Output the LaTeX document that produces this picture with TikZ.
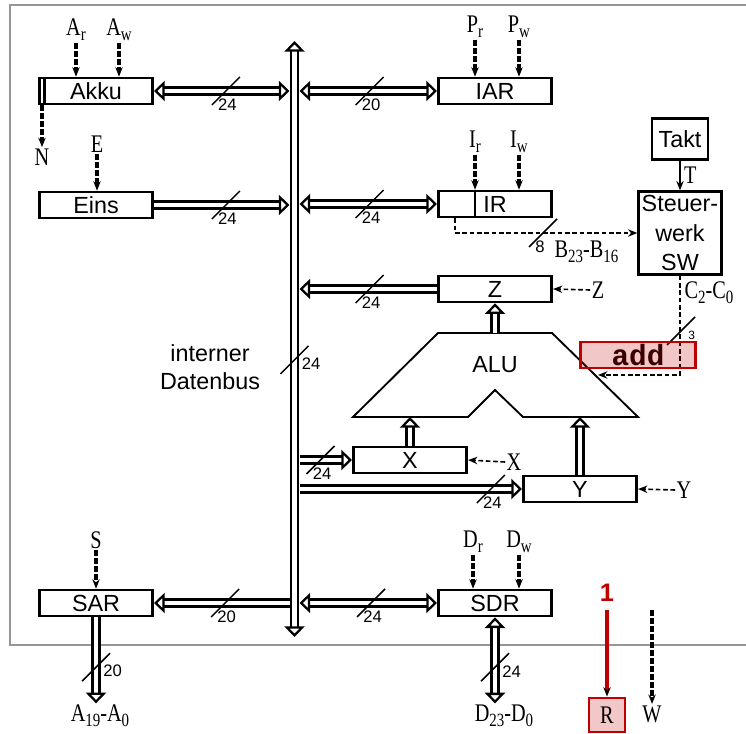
\documentclass[tikz,border=0pt]{standalone}
\usepackage{fontspec}
\setmainfont{Liberation Sans}
\newfontfamily\sigfont{Liberation Serif}[FakeStretch=0.8]
\newfontfamily\codefont{Liberation Mono}
\usetikzlibrary{arrows.meta}
\definecolor{addred}{RGB}{192,0,0}
\definecolor{addtext}{RGB}{60,0,0}
\definecolor{framegray}{RGB}{150,150,150}
\newcommand{\sub}[1]{\raisebox{-0.45ex}{\fontsize{14}{14}\selectfont #1}}

\tikzset{
  pics/wmark/.style={code={\draw[slash] (-14,-14) -- (14,14); \node[wlab, anchor=north west] at (-8,-8) {#1};}},
  pics/vmark/.style={code={\draw[slash] (-14,-14) -- (14,14); \node[wlab, anchor=west] at (7,-4) {#1};}},
}

\begin{document}
\begin{tikzpicture}[x=0.75pt,y=0.75pt,yscale=-1,xscale=1,
  reg/.style={draw, line width=2pt, minimum width=85pt, minimum height=19.5pt, inner sep=0pt, font=\fontsize{17.5}{21}\selectfont},
  sig/.style={inner sep=1pt, font=\sigfont\fontsize{19}{20}\selectfont},
  bus/.style={double, double distance=3.4pt, line width=1.7pt},
  ctrl/.style={line width=2.4pt, dash pattern=on 4.5pt off 1.5pt, -{Stealth[length=7pt,width=5.5pt]}},
  sline/.style={line width=1.2pt, dash pattern=on 3.5pt off 2pt, -{Stealth[length=7pt,width=5.5pt]}},
  slash/.style={line width=1.1pt},
  wlab/.style={inner sep=0pt, font=\fontsize{12.5}{12.5}\selectfont},
  redbox/.style={draw=addred, line width=2.2pt, fill=addred, fill opacity=0.22, text opacity=1},
  >={Triangle[open, length=8pt, width=15pt]}
]
\useasboundingbox (0,0) rectangle (746,734);

%Frame
\draw[framegray, line width=2.2pt] (746,5) -- (10,5) -- (10,645) -- (746,645);

%Bus
\coordinate (bustop) at (294.5,41);
\coordinate (busbot) at (294.5,637);
\coordinate (busL) at (289.5,0);
\coordinate (busR) at (299.5,0);
\draw[bus,<->] (bustop) -- (busbot) coordinate[pos=0.535] (wbus);
\pic at (wbus) {vmark=24};
% Text Node
\node[align=center, font=\fontsize{17.5}{21}\selectfont] (dbl) at (210,367) {interner\\Datenbus};

%Registers
\node[reg] (akku) at (96,91) {Akku};
\draw[line width=2pt] ([xshift=5pt]akku.north west) -- ([xshift=5pt]akku.south west);
\node[reg] (eins) at (96,205) {Eins};
\node[reg] (iar) at (495,91) {IAR};
\node[reg] (ir) at (495,204) {IR};
\draw[line width=2pt] ([xshift=28.5pt]ir.north west) -- ([xshift=28.5pt]ir.south west);
\node[reg] (z) at (495,289) {Z};
\node[reg] (x) at (410,460) {X};
\node[reg] (y) at (580,489) {Y};
\node[reg] (sar) at (96,603) {SAR};
\node[reg] (sdr) at (495,603) {SDR};
\node[reg, minimum width=42pt, minimum height=31pt] (takt) at (680,139) {Takt};
\node[reg, minimum width=62pt, minimum height=62pt, align=center, font=\fontsize{17.5}{22}\selectfont] (sw) at (680,233) {Steuer-\\werk\\SW};

%Bus connections
\draw[bus,<->] (akku.east) -- (akku.east -| busL) coordinate[pos=0.53] (wakku);
\pic at (wakku) {wmark=24};
\draw[bus,->] (eins.east) -- (eins.east -| busL) coordinate[pos=0.53] (weins);
\pic at (weins) {wmark=24};
\draw[bus,<->] (iar.west -| busR) -- (iar.west) coordinate[pos=0.51] (wiar);
\pic at (wiar) {wmark=20};
\draw[bus,<->] (ir.west -| busR) -- (ir.west) coordinate[pos=0.51] (wir);
\pic at (wir) {wmark=24};
\draw[bus,->] (z.west) -- (z.west -| busR) coordinate[pos=0.49] (wz);
\pic at (wz) {wmark=24};
\draw[bus,->] (x.west -| busR) -- (x.west) coordinate[pos=0.4] (wx);
\pic at (wx) {wmark=24};
\draw[bus,->] (y.west -| busR) -- (y.west) coordinate[pos=0.86] (wy);
\pic at (wy) {wmark=24};
\draw[bus,->] (sar.east -| busL) -- (sar.east) coordinate[pos=0.475] (wsar);
\pic at (wsar) {wmark=20};
\draw[bus,<->] (sdr.west -| busR) -- (sdr.west) coordinate[pos=0.52] (wsdr);
\pic at (wsdr) {wmark=24};

%ALU
\coordinate (alutop) at (495,333);
\coordinate (alubot) at (495,417);
\draw[line width=1.4pt] (438,333) -- (552,333) -- (638,417) -- (523,417) -- (495,390) -- (468,417) -- (353,417) -- cycle;
\node[font=\fontsize{17.5}{21}\selectfont] (alu) at (495,365) {ALU};
\draw[bus,->] (alutop) -- (z.south);
\draw[bus,->] (x.north) -- (x.north |- alubot);
\draw[bus,->] (y.north) -- (y.north |- alubot);

%Control signals
\node[sig] (ar) at (76,30) {A\sub{r}};
\node[sig] (aw) at (119,30) {A\sub{w}};
\draw[ctrl] (ar.south) -- (ar.south |- akku.north);
\draw[ctrl] (aw.south) -- (aw.south |- akku.north);
\node[sig] (nl) at (42,157) {N};
\draw[ctrl] (nl.north |- akku.south) -- (nl.north);
\node[sig] (el) at (97,144) {E};
\draw[ctrl] (el.south) -- (el.south |- eins.north);
\node[sig] (pr) at (475,27) {P\sub{r}};
\node[sig] (pw) at (519,27) {P\sub{w}};
\draw[ctrl] (pr.south) -- (pr.south |- iar.north);
\draw[ctrl] (pw.south) -- (pw.south |- iar.north);
\node[sig] (irl) at (475,142) {I\sub{r}};
\node[sig] (iwl) at (519,142) {I\sub{w}};
\draw[ctrl] (irl.south) -- (irl.south |- ir.north);
\draw[ctrl] (iwl.south) -- (iwl.south |- ir.north);
\node[sig] (sl) at (96,540) {S};
\draw[ctrl] (sl.south) -- (sl.south |- sar.north);
\node[sig] (drl) at (473,542) {D\sub{r}};
\node[sig] (dwl) at (519,542) {D\sub{w}};
\draw[ctrl] (drl.south) -- (drl.south |- sdr.north);
\draw[ctrl] (dwl.south) -- (dwl.south |- sdr.north);
\node[sig] (zl) at (598,290) {Z};
\draw[sline] (zl.west) -- (z.east);
\node[sig] (xl) at (514,462) {X};
\draw[sline] (xl.west) -- (x.east);
\node[sig] (yl) at (684,490) {Y};
\draw[sline] (yl.west) -- (y.east);

%Steuerwerk
\draw[line width=2.2pt, -{Stealth[length=7pt,width=5.5pt]}] (takt.south) -- (sw.north) node[sig, midway, right=1pt] (tl) {T};
\draw[sline] ([xshift=13.5pt]ir.south west) |- (sw.west);
\pic at (543,233) {wmark=8};
\node[sig, anchor=west] (bl) at (553,252) {B\sub{23}-B\sub{16}};
\node[sig, anchor=west] (cl) at (683,293) {C\sub{2}-C\sub{0}};
\coordinate (aluctl) at (598,375);
\draw[sline] (sw.south) |- (aluctl);
\pic at (681,331) {vmark={\fontsize{9}{9}\selectfont 3}};
\node[redbox, minimum width=86pt, minimum height=19.5pt, inner sep=0pt, text=addtext, font=\codefont\bfseries\fontsize{22}{22}\selectfont] (add) at (638,355) {add};

%Outside
\node[sig] (al) at (100,716) {A\sub{19}-A\sub{0}};
\draw[bus,->] (sar.south) -- (sar.south |- al.north) coordinate[pos=0.58] (wal);
\pic at (wal) {vmark=20};
\node[sig] (dl) at (504,716) {D\sub{23}-D\sub{0}};
\draw[bus,<->] (sdr.south) -- (sdr.south |- dl.north) coordinate[pos=0.58] (wdl);
\pic at (wdl) {vmark=24};
\node[text=addred, inner sep=1pt, font=\bfseries\fontsize{19}{19}\selectfont] (one) at (607,593) {1};
\node[sig, redbox, minimum width=27pt, minimum height=25.5pt, inner sep=0pt] (rl) at (607,715) {R};
\coordinate (rtop) at (607,610);
\draw[addred, line width=3.5pt, -{Stealth[length=7pt,width=5.5pt,black]}] (rtop) -- (rl.north);
\node[sig] (wl) at (652,714) {W};
\coordinate (wtop) at (652,610);
\draw[ctrl] (wtop) -- (wl.north);

\end{tikzpicture}
\end{document}
